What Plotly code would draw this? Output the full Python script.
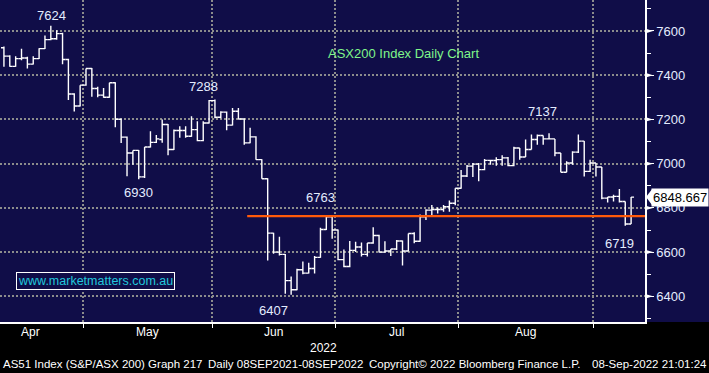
import plotly.graph_objects as go

# ---------------- data (ASX200 daily OHLC) ----------------
opens = [7524, 7486, 7440, 7475, 7478, 7450, 7475, 7520, 7561, 7565,
         7588, 7471, 7315, 7261, 7355, 7430, 7340, 7310, 7300, 7366,
         7201, 7120, 7048, 7060, 6940, 7075, 7096, 7109, 7177, 7064,
         7150, 7150, 7124, 7154, 7104, 7184, 7285, 7210, 7233, 7174,
         7237, 7202, 7094, 7121, 7018, 6932, 6686, 6600, 6590, 6471,
         6430, 6520, 6505, 6526, 6576, 6702, 6760, 6700, 6566, 6535,
         6608, 6623, 6590, 6641, 6675, 6600, 6605, 6614, 6650, 6605,
         6684, 6649, 6760, 6790, 6793, 6793, 6805, 6821, 6889, 6944,
         6989, 6998, 6973, 7015, 7014, 7018, 7026, 6991, 7071, 7030,
         7064, 7109, 7127, 7112, 7112, 7048, 6961, 7003, 7052, 7102,
         6965, 7003, 6985, 6844, 6849, 6852, 6829, 6727]
highs = [7530, 7490, 7486, 7520, 7483, 7486, 7522, 7580, 7624, 7603,
         7592, 7474, 7318, 7355, 7430, 7432, 7348, 7342, 7366, 7368,
         7204, 7123, 7060, 7062, 7075, 7146, 7130, 7200, 7179, 7154,
         7169, 7169, 7214, 7192, 7192, 7288, 7290, 7237, 7236, 7252,
         7252, 7205, 7162, 7124, 7020, 6934, 6688, 6669, 6592, 6490,
         6525, 6558, 6552, 6582, 6710, 6763, 6763, 6702, 6612, 6650,
         6647, 6644, 6641, 6712, 6678, 6649, 6614, 6655, 6653, 6684,
         6690, 6770, 6794, 6813, 6802, 6813, 6833, 6889, 6971, 6994,
         7003, 7003, 7021, 7018, 7029, 7038, 7030, 7076, 7071, 7109,
         7132, 7132, 7127, 7137, 7112, 7048, 7011, 7056, 7132, 7102,
         7018, 7003, 6985, 6849, 6859, 6885, 6829, 6849]
lows = [7438, 7438, 7438, 7468, 7430, 7448, 7473, 7518, 7558, 7560,
        7450, 7288, 7236, 7258, 7352, 7303, 7300, 7298, 7298, 7165,
        7093, 6943, 6995, 6930, 6935, 7073, 7093, 7094, 7038, 7062,
        7117, 7117, 7122, 7101, 7101, 7182, 7205, 7205, 7151, 7172,
        7200, 7086, 7092, 7018, 6932, 6562, 6593, 6585, 6412, 6407,
        6428, 6500, 6503, 6503, 6574, 6700, 6660, 6563, 6532, 6532,
        6600, 6580, 6580, 6638, 6598, 6597, 6582, 6610, 6540, 6603,
        6640, 6647, 6745, 6766, 6775, 6783, 6783, 6812, 6886, 6940,
        6940, 6920, 6970, 6995, 6991, 6991, 6988, 6988, 7018, 7030,
        7064, 7086, 7086, 7109, 7033, 6961, 6961, 6995, 7048, 6942,
        6962, 6942, 6839, 6824, 6829, 6824, 6719, 6727]
closes = [7486, 7440, 7475, 7478, 7450, 7475, 7520, 7561, 7565, 7588,
          7471, 7315, 7261, 7355, 7430, 7340, 7310, 7300, 7366, 7201,
          7120, 7048, 7060, 6940, 7075, 7096, 7112, 7177, 7064, 7150,
          7150, 7124, 7154, 7104, 7184, 7285, 7210, 7233, 7174, 7237,
          7202, 7094, 7121, 7018, 6932, 6686, 6600, 6590, 6471, 6430,
          6520, 6505, 6526, 6576, 6702, 6760, 6700, 6566, 6535, 6608,
          6623, 6590, 6641, 6675, 6600, 6605, 6614, 6650, 6605, 6684,
          6649, 6760, 6790, 6793, 6793, 6805, 6821, 6889, 6944, 6989,
          6998, 6973, 7015, 7014, 7018, 7026, 6991, 7071, 7030, 7064,
          7109, 7127, 7112, 7112, 7048, 6961, 7003, 7052, 7102, 6965,
          7003, 6985, 6844, 6849, 6852, 6829, 6727, 6848.667]
last_price_text = "6848.667"

month_names = ["Apr", "May", "Jun", "Jul", "Aug"]
month_trading_days = [18, 22, 21, 21, 23]   # sessions per month
april_sessions_hidden = 4                   # April sessions before chart start
year_label = "2022"

y_ticks = [6400, 6600, 6800, 7000, 7200, 7400, 7600]
support_level = 6763
support_start_bar = 41.5

# labelled extremes: (bar index, "high"/"low", xshift, yshift)
extremes = [(8, "high", 1, 1), (35, "high", -6, 4), (23, "low", 0, -4),
            (55, "high", -6, 9), (49, "low", -18, -6), (93, "high", -7, 12),
            (106, "low", -6, -8)]

title_text = "ASX200 Index Daily Chart"
site_text = "www.marketmatters.com.au"
# (text, x position px, anchor)
footer = [("AS51 Index (S&P/ASX 200) Graph 217", 2, "left"),
          ("Daily 08SEP2021-08SEP2022", 207, "left"),
          ("Copyright\u00a9 2022 Bloomberg Finance L.P.", 368, "left"),
          ("08-Sep-2022 21:01:24", 708, "right")]

# ---------------- layout constants ----------------
W, H = 709, 373
PW, PH = 645, 322   # plot area in px
X_RANGE = [-0.67, 109.37]
NAVY = "#100d48"
GRID = "#8c8c8c"
FONT = "Liberation Sans, Arial, sans-serif"
TXT = "#e4ecff"

def px(x):
    return x / PW

def py(y):
    return (PH - y) / PH

x_idx = list(range(len(closes)))

# month boundaries
bounds = [-april_sessions_hidden - 0.5]
for n in month_trading_days:
    bounds.append(bounds[-1] + n)
mids = [(bounds[i] + bounds[i + 1]) / 2 for i in range(len(month_names))]

fig = go.Figure()
fig.add_trace(go.Ohlc(
    x=x_idx, open=opens, high=highs, low=lows, close=closes,
    increasing=dict(line=dict(color="white", width=1.4)),
    decreasing=dict(line=dict(color="white", width=1.4)),
    tickwidth=0.5, hoverinfo="skip", showlegend=False))

shapes = []
# navy band incl. right axis area
shapes.append(dict(type="rect", xref="paper", yref="paper", x0=0, x1=W / PW,
                   y0=0, y1=1, fillcolor=NAVY, line=dict(width=0), layer="below"))
# support line
shapes.append(dict(type="line", xref="x", yref="y", x0=support_start_bar, x1=X_RANGE[1],
                   y0=support_level, y1=support_level,
                   line=dict(color="#ff5a0a", width=2.2)))
# tick triangles on right axis
for v in y_ticks:
    shapes.append(dict(type="path", xref="paper", yref="y",
                       path=f"M 1.0,{v + 11} L 1.0,{v - 11} L {px(653)},{v} Z",
                       fillcolor="white", line=dict(width=0)))
# pointer of last price label
lp = closes[-1]
shapes.append(dict(type="path", xref="paper", yref="y",
                   path=f"M {px(646)},{lp} L {px(652)},{lp + 36} L {px(652)},{lp - 36} Z",
                   fillcolor="white", line=dict(width=0)))

ann = []
for name, m in zip(month_names, mids):
    ann.append(dict(x=m, y=py(332), xref="x", yref="paper", text=name, showarrow=False,
                    font=dict(family=FONT, size=12, color="white"),
                    xanchor="center", yanchor="middle"))
ann.append(dict(x=px(323), y=py(348), xref="paper", yref="paper", text=year_label,
                showarrow=False, font=dict(family=FONT, size=12, color="white"),
                xanchor="center", yanchor="middle"))
for text, x0, anc in footer:
    ann.append(dict(x=px(x0), y=py(364), xref="paper", yref="paper", text=text,
                    showarrow=False, font=dict(family=FONT, size=11.5, color="white"),
                    xanchor=anc, yanchor="middle", borderpad=0))
for i, kind, xs, ys in extremes:
    val = highs[i] if kind == "high" else lows[i]
    ann.append(dict(x=i, y=val, xref="x", yref="y", text=f"{val:.0f}", showarrow=False,
                    font=dict(family=FONT, size=13, color=TXT),
                    xanchor="center", yanchor="bottom" if kind == "high" else "top",
                    xshift=xs, yshift=ys))
ann.append(dict(x=px(403), y=py(53), xref="paper", yref="paper", text=title_text,
                showarrow=False, font=dict(family=FONT, size=13, color="#7ff58a"),
                xanchor="center", yanchor="middle"))
ann.append(dict(x=px(95.5), y=py(281), xref="paper", yref="paper", text=site_text,
                showarrow=False, font=dict(family=FONT, size=12.5, color="#22c8dc"),
                xanchor="center", yanchor="middle", bordercolor="white",
                borderwidth=1, borderpad=1, bgcolor=NAVY))
ann.append(dict(x=px(651), y=lp, xref="paper", yref="y", text=last_price_text,
                showarrow=False, font=dict(family=FONT, size=13, color="black"),
                xanchor="left", yanchor="middle", bgcolor="white", borderpad=1))

fig.update_layout(
    width=W, height=H,
    margin=dict(l=0, r=W - PW, t=0, b=H - PH, autoexpand=False),
    paper_bgcolor="black", plot_bgcolor=NAVY,
    showlegend=False, shapes=shapes, annotations=ann,
    xaxis=dict(range=X_RANGE, tickvals=bounds[1:],
               ticktext=[""] * (len(bounds) - 1), showgrid=True, gridcolor=GRID,
               griddash="2px,2px", gridwidth=2, zeroline=False,
               showline=True, linecolor="white", linewidth=1.5,
               ticks="outside", ticklen=4, tickcolor="white",
               rangeslider=dict(visible=False), fixedrange=True),
    yaxis=dict(side="right", range=[6284, 7740], tickvals=y_ticks,
               showgrid=True, gridcolor=GRID, griddash="2px,2px", gridwidth=2,
               zeroline=False, showline=True, linecolor="white", linewidth=1.5,
               ticks="outside", ticklen=7, tickcolor="white",
               tickfont=dict(family=FONT, size=13, color=TXT),
               minor=dict(dtick=100, tick0=6300, ticks="outside", ticklen=4,
                          tickcolor="white", showgrid=False)),
)

fig.write_html(
    "out.html",
    config={"displayModeBar": False},
    post_script="document.body.style.margin='0';document.body.style.overflow='hidden';"
                "document.body.style.background='black';",
)
